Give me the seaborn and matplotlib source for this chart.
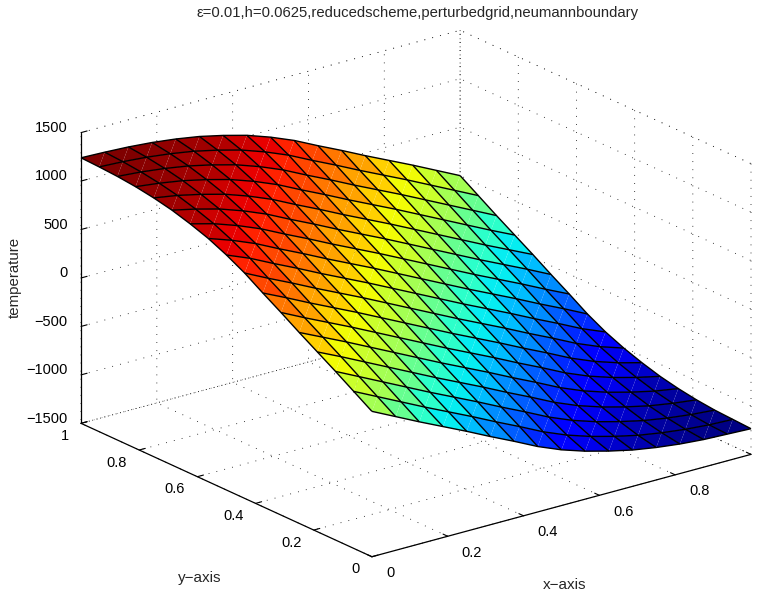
import numpy as np
import seaborn as sns
import matplotlib.pyplot as plt
import matplotlib.tri as mtri

# nodes of the mesh, h = 0.0625
x_nodes = [0, .0625, .125, .1875, .25, .3125, .375, .4375, .5, .5625, .625, .6875, .75, .8125, .875, .9375, 1]
y_nodes = [0, .0625, .125, .1875, .25, .3125, .375, .4375, .5, .5625, .625, .6875, .75, .8125, .875, .9375, 1]

# temperature, by number of nodes between y and x (y index - x index, -16 to 16)
temp_by_offset = [-1235, -1225, -1215, -1195, -1165, -1125, -1070, -1005, -925, -825, -705, -590, -470, -355, -240, -120,
                  0,
                  120, 240, 355, 470, 590, 705, 825, 925, 1010, 1075, 1130, 1170, 1200, 1220, 1232, 1240]

# value behind the colour of one cell (y index - x index of the cell, -15 to 15)
cell_temp_by_offset = [-1225, -1215, -1195, -1165, -1125, -1070, -1005, -925, -825, -705, -590, -470, -355, -240, -60,
                       120,
                       240, 355, 470, 590, 705, 825, 925, 1010, 1075, 1130, 1170, 1200, 1220, 1232, 1240]

x_ticks = [0, .2, .4, .6, .8, 1]
y_ticks = [0, .2, .4, .6, .8, 1]
z_ticks = [-1500, -1000, -500, 0, 500, 1000, 1500]
x_labels = ['0', '0.2', '0.4', '0.6', '0.8', '']
y_labels = ['0', '0.2', '0.4', '0.6', '0.8', '1']
z_labels = ['\u22121500', '\u22121000', '\u2212500', '0', '500', '1000', '1500']

title = '\u03b5=0.01,h=0.0625,reducedscheme,perturbedgrid,neumannboundary'

W, H = 763, 594


def make_grid():
    X, Y = np.meshgrid(x_nodes, y_nodes)
    I, J = np.meshgrid(range(len(x_nodes)), range(len(y_nodes)))
    Z = np.array(temp_by_offset)[J - I + 16]
    return X, Y, Z


def make_cell_colors():
    I, J = np.meshgrid(range(len(x_nodes) - 1), range(len(y_nodes) - 1))
    return np.array(cell_temp_by_offset)[J - I + 15]


def make_triangles(nx, ny):
    tris = []
    for j in range(ny - 1):
        for i in range(nx - 1):
            a = j * nx + i
            tris.append([a, a + 1, a + nx + 1])
            tris.append([a, a + nx + 1, a + nx])
    return tris


def style_axes(ax):
    dotted = (0, (1, 8.7))
    for axis in [ax.xaxis, ax.yaxis, ax.zaxis]:
        axis.pane.set_facecolor('none')
        axis.pane.set_edgecolor('k')
        axis.pane.set_linestyle(dotted)
        axis.pane.set_linewidth(0.6)
        axis.line.set_color('k')
        axis.line.set_linewidth(0.9)
        axis._axinfo['grid'].update(color='k', linewidth=0.6, linestyle=dotted)
        axis._axinfo['tick'].update(inward_factor=0, outward_factor=0.2)

    ax.set_xticks(x_ticks, x_labels)
    ax.set_yticks(y_ticks, y_labels)
    ax.set_zticks(z_ticks, z_labels)
    ax.tick_params(labelsize=10.5, colors='k', width=0.8)
    ax.tick_params(axis='x', pad=6.5)
    ax.tick_params(axis='y', pad=1.7)
    ax.tick_params(axis='z', pad=-2)
    ax.set_xlim(0, 1)
    ax.set_ylim(0, 1)
    ax.set_zlim(-1500, 1500)

    for lab in ax.get_xticklabels():
        lab.set(ha='left', va='baseline')
    for lab in ax.get_yticklabels():
        lab.set(ha='right', va='center')
    for lab in ax.get_zticklabels():
        lab.set(ha='right', va='baseline')


def plot():
    sns.set_style('white')
    plt.rcParams['font.family'] = ['Liberation Sans', 'DejaVu Sans']

    X, Y, Z = make_grid()
    tri = mtri.Triangulation(X.ravel(), Y.ravel(), make_triangles(len(x_nodes), len(y_nodes)))

    fig = plt.figure(figsize=(W / 100, H / 100), dpi=100)
    # axes larger than the figure, otherwise the corners of the surface get clipped
    ax = fig.add_axes([5.2 / W, -110.3 / H, 800 / W, 800 / H], projection='3d', computed_zorder=False)
    ax.set_proj_type('ortho')
    ax.view_init(elev=20.6, azim=-127.5)
    ax.set_box_aspect((1, 1, 0.65), zoom=0.9025)
    ax.patch.set_alpha(0)

    surf = ax.plot_trisurf(tri, Z.ravel(), cmap='jet', vmin=-1240, vmax=1240, linewidth=0, antialiased=True, zorder=1)
    # both triangles of a cell get the same colour
    surf.set_array(np.repeat(make_cell_colors().ravel(), 2))
    ax.plot_wireframe(X, Y, Z, rstride=1, cstride=1, color='k', linewidth=1.0, zorder=2)
    style_axes(ax)

    fig.text(418 / W, 1 - 13 / H, title, fontsize=10.7, ha='center', va='center')
    fig.text(565 / W, 1 - 585 / H, 'x\u2212axis', fontsize=11, ha='center', va='center')
    fig.text(200 / W, 1 - 578 / H, 'y\u2212axis', fontsize=11, ha='center', va='center')
    fig.text(15 / W, 1 - 277 / H, 'temperature', fontsize=10.8, rotation=90, ha='center', va='center')

    fig.savefig('out.png', dpi=100)


if __name__ == "__main__":
    plot()
